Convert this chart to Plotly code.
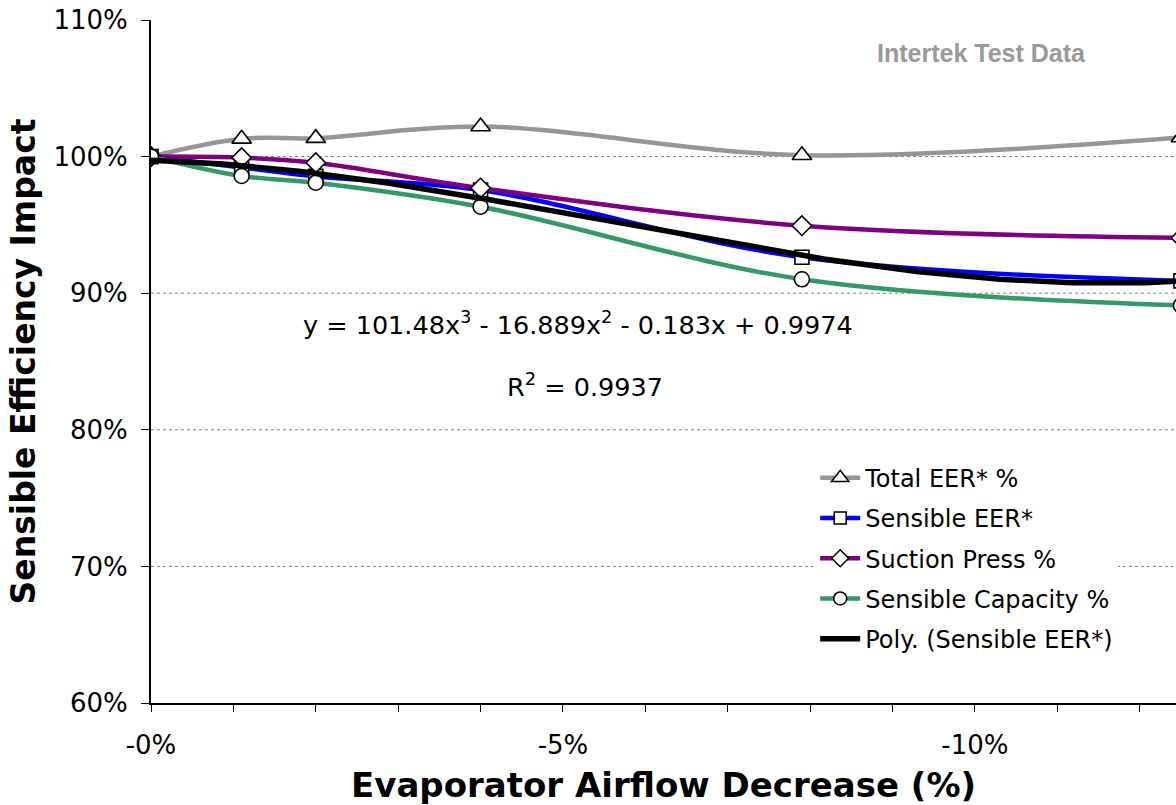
import numpy as np
import plotly.graph_objects as go

# ---- data ----
airflow_decrease = [0.0, 0.011, 0.020, 0.040, 0.079, 0.125]   # fraction of airflow decrease
total_eer = [1.000, 1.013, 1.0135, 1.022, 1.001, 1.014]
sensible_eer = [1.000, 0.992, 0.9855, 0.9755, 0.9263, 0.909]
suction_press = [1.000, 0.9992, 0.9955, 0.977, 0.9494, 0.9405]
sensible_capacity = [1.000, 0.9858, 0.9809, 0.9633, 0.9102, 0.891]

# cubic trendline of Sensible EER* as printed on the chart
trend_coeffs = [101.48, -16.889, -0.183, 0.9974]
trend_label_1 = "y = 101.48x<sup>3</sup> - 16.889x<sup>2</sup> - 0.183x + 0.9974"
trend_label_2 = "R<sup>2</sup> = 0.9937"

x_tick_vals = [0.0, 0.05, 0.10]
x_tick_text = ["-0%", "-5%", "-10%"]
y_tick_vals = [0.6, 0.7, 0.8, 0.9, 1.0, 1.1]
grid_levels = [0.7, 0.8, 0.9, 1.0]

series = [
    ("Total EER* %", total_eer, "#969696", "triangle-up", 17),
    ("Sensible EER*", sensible_eer, "#0000FF", "square", 14),
    ("Suction Press %", suction_press, "#800080", "diamond", 15),
    ("Sensible Capacity %", sensible_capacity, "#339966", "circle", 15),
]

FONT = "DejaVu Sans"

fig = go.Figure()
for name, vals, color, sym, size in series:
    fig.add_trace(go.Scatter(
        x=airflow_decrease, y=vals, mode="lines", name=name,
        line=dict(color=color, width=4.5, shape="spline", smoothing=1.0),
        legendgroup=name, showlegend=False, hoverinfo="skip"))
    fig.add_trace(go.Scatter(
        x=airflow_decrease, y=vals, mode="markers", name=name,
        marker=dict(symbol=sym, size=size, color="white",
                    line=dict(color="black", width=1.6)),
        legendgroup=name, showlegend=False))
    fig.add_trace(go.Scatter(
        x=[None], y=[None], mode="lines+markers", name=name,
        line=dict(color=color, width=4.5),
        marker=dict(symbol=sym, size=size - 2, color="white",
                    line=dict(color="black", width=1.5)),
        legendgroup=name, showlegend=True))

xt = np.linspace(0, max(airflow_decrease), 200)
fig.add_trace(go.Scatter(
    x=xt, y=np.polyval(trend_coeffs, xt), mode="lines",
    name="Poly. (Sensible EER*)", line=dict(color="black", width=5.5),
    legendgroup="poly"))

shapes = [dict(type="line", xref="paper", x0=0, x1=1, yref="y", y0=g, y1=g,
               line=dict(color="#808080", width=1, dash="dot"), layer="below")
          for g in grid_levels]

fig.update_layout(
    width=1176, height=805,
    margin=dict(l=151, r=0, t=20, b=102),
    paper_bgcolor="white", plot_bgcolor="white",
    font=dict(family=FONT, size=24, color="black"),
    shapes=shapes,
    showlegend=True,
    legend=dict(x=0.648, y=0.362, xanchor="left", yanchor="top",
                bgcolor="white", borderwidth=0, font=dict(family=FONT, size=24),
                tracegroupgap=6, itemwidth=40),
    annotations=[
        dict(text=trend_label_1, xref="paper", yref="paper", x=0.417, y=0.556,
             showarrow=False, font=dict(family=FONT, size=25.5), xanchor="center", yanchor="middle"),
        dict(text=trend_label_2, xref="paper", yref="paper", x=0.423, y=0.466,
             showarrow=False, font=dict(family=FONT, size=25.5), xanchor="center", yanchor="middle"),
        dict(text="<b>Intertek Test Data</b>", xref="paper", yref="paper", x=0.81, y=0.951,
             showarrow=False, font=dict(family="Liberation Sans", size=25, color="#999999"),
             xanchor="center", yanchor="middle"),
    ],
)

fig.update_xaxes(
    range=[0, 0.1244], tickvals=x_tick_vals, ticktext=x_tick_text,
    ticks="outside", ticklen=7, tickwidth=1.3, tickcolor="black",
    minor=dict(dtick=0.01, ticks="outside", ticklen=7, tickwidth=1.3, tickcolor="black", showgrid=False),
    showline=True, linecolor="black", linewidth=2, showgrid=False, zeroline=False,
    tickfont=dict(family=FONT, size=26), ticklabelstandoff=11,
    title=dict(text="<b>Evaporator Airflow Decrease (%)</b>", font=dict(family=FONT, size=34), standoff=16),
)
fig.update_yaxes(
    range=[0.6, 1.1], tickvals=y_tick_vals, tickformat=".0%",
    ticks="outside", ticklen=8, tickwidth=1.3, tickcolor="black",
    showline=True, linecolor="black", linewidth=2, showgrid=False, zeroline=False,
    tickfont=dict(family=FONT, size=26), ticklabelstandoff=8,
    title=dict(text="<b>Sensible Efficiency Impact</b>", font=dict(family=FONT, size=33), standoff=8),
)

fig.write_html("out.html")
